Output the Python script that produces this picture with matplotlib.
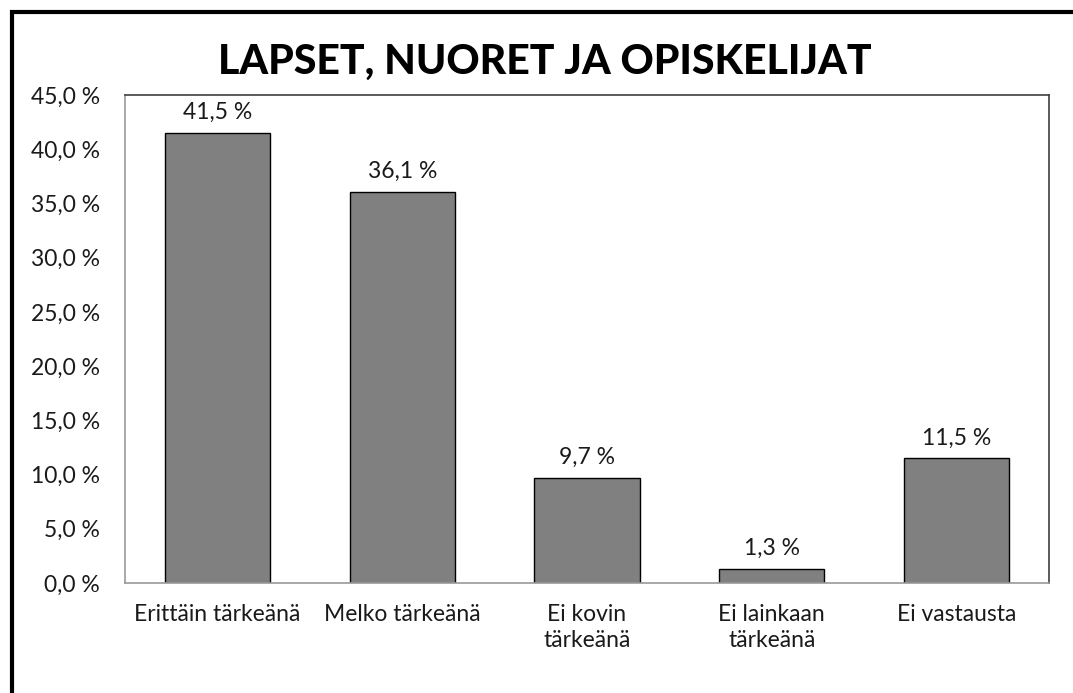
import matplotlib.pyplot as plt
from matplotlib.patches import Rectangle

# data
categories = ['Erittäin tärkeänä', 'Melko tärkeänä', 'Ei kovin\ntärkeänä',
              'Ei lainkaan\ntärkeänä', 'Ei vastausta']
values = [41.5, 36.1, 9.7, 1.3, 11.5]
yticks = [0, 5, 10, 15, 20, 25, 30, 35, 40, 45]

plt.rcParams['font.family'] = ['Lato', 'DejaVu Sans']

fig = plt.figure(figsize=(10.73, 6.93), dpi=100)
ax = fig.add_axes([125 / 1073, 1 - 583 / 693, 924 / 1073, 488 / 693])

x = range(len(categories))
bars = ax.bar(x, values, width=0.57, color='#808080', edgecolor='#000000', linewidth=1)

ax.set_xlim(-0.5, len(categories) - 0.5)
ax.set_ylim(0, 45)
ax.set_yticks(yticks)
ax.set_yticklabels([f'{v:.1f} %'.replace('.', ',') for v in yticks], fontsize=16.5, color='#1a1a1a')
ax.set_xticks(list(x))
ax.set_xticklabels(categories, fontsize=16.5, color='#1a1a1a', linespacing=1.3)
ax.tick_params(axis='y', length=0, pad=18)
ax.tick_params(axis='x', length=0, pad=15)

for b, v in zip(bars, values):
    ax.annotate(f'{v:.1f} %'.replace('.', ','), (b.get_x() + b.get_width() / 2, v),
                xytext=(0, 7), textcoords='offset points', ha='center', va='bottom',
                fontsize=16.5, color='#1a1a1a')

for s in ['top', 'right']:
    ax.spines[s].set_color('#404040')
for s in ['bottom', 'left']:
    ax.spines[s].set_color('#9a9a9a')
for s in ax.spines.values():
    s.set_linewidth(1.2)

fig.text(545 / 1073, 1 - 62 / 693, 'LAPSET, NUORET JA OPISKELIJAT', ha='center', va='center',
         fontsize=29.5, fontweight='black', family='Lato')

# outer frame, only top and left edges visible
fig.patches.append(Rectangle((12 / 1073, -0.05), 1.1, 1 - 12 / 693 + 0.05,
                             transform=fig.transFigure, fill=False, edgecolor='black',
                             linewidth=3))

fig.savefig('out.png', dpi=100)
